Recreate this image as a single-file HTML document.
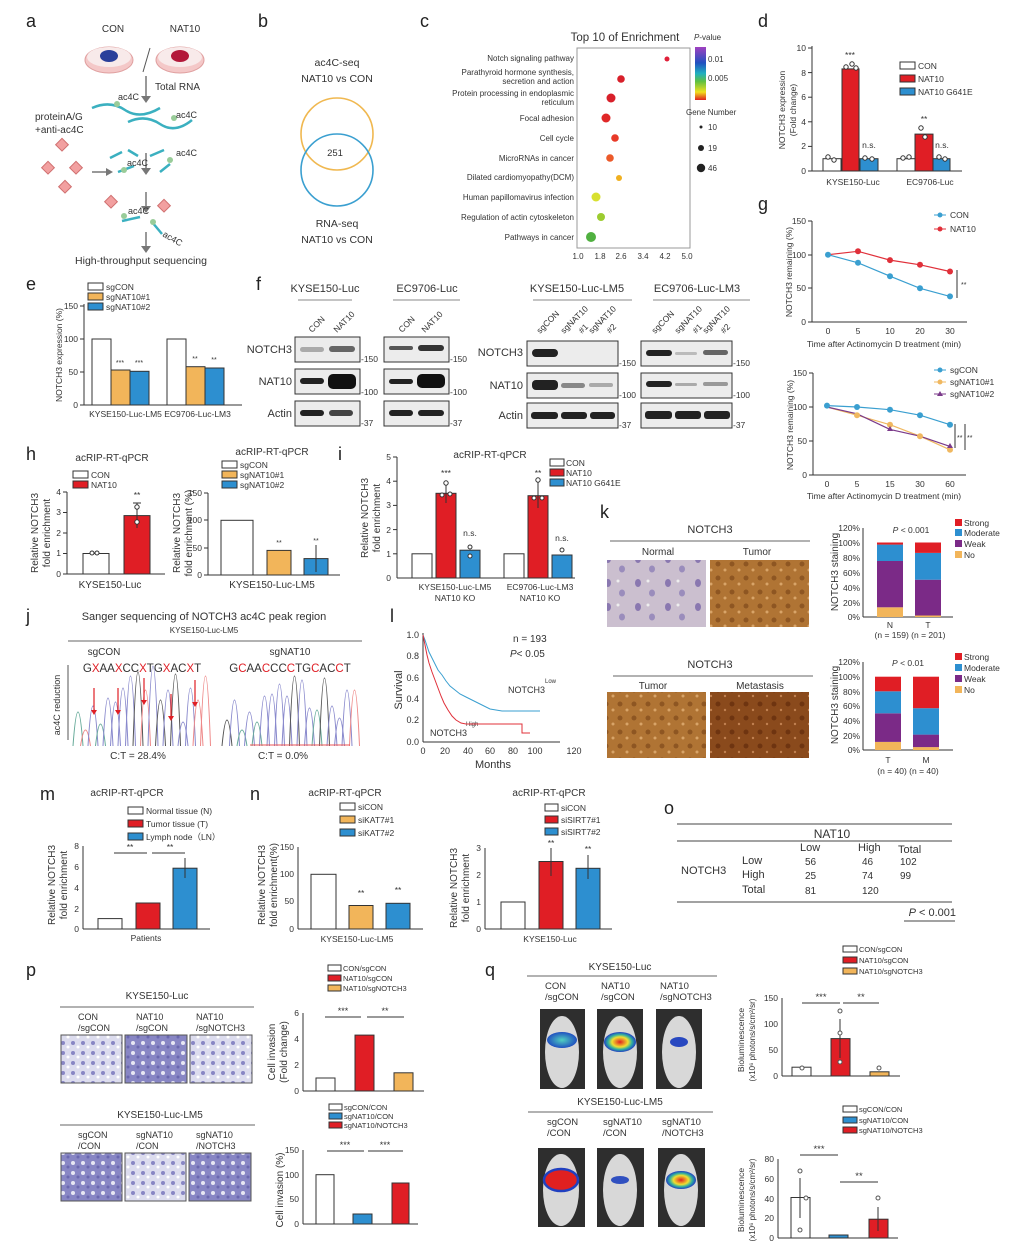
<!DOCTYPE html>
<html><head><meta charset="utf-8"><style>
html,body{margin:0;padding:0;background:#fff;}
svg{display:block;font-family:"Liberation Sans",Arial,sans-serif;}
</style></head><body>
<svg width="1024" height="1256" viewBox="0 0 1024 1256" xmlns="http://www.w3.org/2000/svg" fill="#333">
<rect width="1024" height="1256" fill="#fff"/>
<!-- Panel letters -->
<g font-size="18" fill="#222">
<text x="26" y="27">a</text><text x="258" y="27">b</text><text x="420" y="27">c</text><text x="758" y="27">d</text>
<text x="26" y="290">e</text><text x="256" y="290">f</text><text x="758" y="210">g</text>
<text x="26" y="460">h</text><text x="338" y="460">i</text><text x="600" y="518">k</text>
<text x="26" y="622">j</text><text x="390" y="622">l</text>
<text x="40" y="800">m</text><text x="250" y="800">n</text><text x="664" y="814">o</text>
<text x="26" y="976">p</text><text x="485" y="976">q</text>
</g>

<!-- Panel a -->
<g font-size="10" fill="#333">
<text x="113" y="32" text-anchor="middle">CON</text><text x="185" y="32" text-anchor="middle">NAT10</text>
<ellipse cx="109" cy="60" rx="24" ry="13" fill="#f4c8c8" stroke="#e0a0a0"/>
<ellipse cx="109" cy="57" rx="22" ry="10" fill="#f8eaea"/>
<ellipse cx="109" cy="56" rx="9" ry="6" fill="#2a3f9a"/>
<ellipse cx="180" cy="60" rx="24" ry="13" fill="#f4c8c8" stroke="#e0a0a0"/>
<ellipse cx="180" cy="57" rx="22" ry="10" fill="#f8eaea"/>
<ellipse cx="180" cy="56" rx="9" ry="6" fill="#b3183a"/>
<line x1="150" y1="48" x2="143" y2="72" stroke="#555"/>
<g stroke="#777" stroke-width="1.5" fill="none">
<line x1="146" y1="76" x2="146" y2="98"/><line x1="146" y1="153" x2="146" y2="170"/><line x1="146" y1="192" x2="146" y2="208"/><line x1="146" y1="232" x2="146" y2="248"/><line x1="92" y1="172" x2="108" y2="172"/>
</g>
<polygon points="141,96 151,96 146,103" fill="#777"/><polygon points="141,168 151,168 146,175" fill="#777"/><polygon points="141,206 151,206 146,213" fill="#777"/><polygon points="141,246 151,246 146,253" fill="#777"/><polygon points="106,168 106,176 113,172" fill="#777"/>
<text x="155" y="90">Total RNA</text>
<g stroke="#3bb0c0" stroke-width="2.5" fill="none">
<path d="M92,108 Q110,100 125,110 T160,108"/><path d="M128,122 Q145,114 160,124 T192,120"/>
<path d="M110,158 l12,-6"/><path d="M128,150 l10,6"/><path d="M150,156 l14,-6"/><path d="M118,172 l16,-6"/><path d="M160,172 l10,-8"/><path d="M122,221 l18,-4"/><path d="M152,222 l10,12"/>
</g>
<circle cx="117" cy="104" r="3" fill="#9c9"/><circle cx="174" cy="118" r="3" fill="#9c9"/><circle cx="124" cy="170" r="3" fill="#9c9"/><circle cx="170" cy="160" r="3" fill="#9c9"/><circle cx="124" cy="216" r="3" fill="#9c9"/><circle cx="153" cy="222" r="3" fill="#9c9"/>
<g font-size="9"><text x="118" y="100">ac4C</text><text x="176" y="118">ac4C</text><text x="176" y="156">ac4C</text><text x="127" y="166">ac4C</text><text x="128" y="214">ac4C</text><text x="162" y="236" transform="rotate(30 162 236)">ac4C</text></g>
<text x="35" y="120">proteinA/G</text><text x="35" y="133">+anti-ac4C</text>
<g fill="#f2a0a0" stroke="#d07070">
<rect x="58" y="140" width="9" height="9" transform="rotate(45 62 144)"/><rect x="44" y="163" width="9" height="9" transform="rotate(45 48 167)"/><rect x="72" y="163" width="9" height="9" transform="rotate(45 76 167)"/><rect x="61" y="182" width="9" height="9" transform="rotate(45 65 186)"/><rect x="107" y="197" width="9" height="9" transform="rotate(45 111 201)"/><rect x="160" y="201" width="9" height="9" transform="rotate(45 164 205)"/>
</g>
<text x="141" y="264" text-anchor="middle" font-size="10.5">High-throughput sequencing</text>
</g>

<!-- Panel b -->
<g font-size="10.5" fill="#333" text-anchor="middle">
<text x="337" y="66">ac4C-seq</text><text x="337" y="82">NAT10 vs CON</text>
<circle cx="337" cy="134" r="36" fill="none" stroke="#f0b850" stroke-width="1.6"/>
<circle cx="337" cy="170" r="36" fill="none" stroke="#3a9fd0" stroke-width="1.6"/>
<text x="335" y="156" font-size="9.5">251</text>
<text x="337" y="227">RNA-seq</text><text x="337" y="243">NAT10 vs CON</text>
</g>

<!-- Panel c -->
<g font-size="8" fill="#333">
<text x="625" y="41" text-anchor="middle" font-size="11.5">Top 10 of Enrichment</text>
<rect x="577" y="48" width="113" height="200" fill="none" stroke="#999"/>
<g text-anchor="end">
<text x="574" y="61">Notch signaling pathway</text>
<text x="574" y="75">Parathyroid hormone synthesis,</text><text x="574" y="84">secretion and action</text>
<text x="574" y="96">Protein processing in endoplasmic</text><text x="574" y="105">reticulum</text>
<text x="574" y="121">Focal adhesion</text><text x="574" y="141">Cell cycle</text><text x="574" y="161">MicroRNAs in cancer</text>
<text x="574" y="180">Dilated cardiomyopathy(DCM)</text><text x="574" y="200">Human papillomavirus infection</text>
<text x="574" y="220">Regulation of actin cytoskeleton</text><text x="574" y="240">Pathways in cancer</text>
</g>
<circle cx="667" cy="59" r="2.5" fill="#e0203a"/><circle cx="621" cy="79" r="3.8" fill="#d8202a"/><circle cx="611" cy="98" r="4.5" fill="#d8202a"/><circle cx="606" cy="118" r="4.5" fill="#e02828"/><circle cx="615" cy="138" r="3.8" fill="#e83a28"/><circle cx="610" cy="158" r="3.8" fill="#ec5a2a"/><circle cx="619" cy="178" r="3" fill="#f0b020"/><circle cx="596" cy="197" r="4.5" fill="#d8e030"/><circle cx="601" cy="217" r="4" fill="#9ccc30"/><circle cx="591" cy="237" r="5" fill="#50b040"/>
<g text-anchor="middle"><text x="578" y="259">1.0</text><text x="600" y="259">1.8</text><text x="621" y="259">2.6</text><text x="643" y="259">3.4</text><text x="665" y="259">4.2</text><text x="687" y="259">5.0</text></g>
<defs><linearGradient id="cb" x1="0" y1="0" x2="0" y2="1"><stop offset="0" stop-color="#a040c0"/><stop offset="0.3" stop-color="#2050c0"/><stop offset="0.5" stop-color="#20b0c0"/><stop offset="0.65" stop-color="#60c040"/><stop offset="0.85" stop-color="#f0e020"/><stop offset="1" stop-color="#e02020"/></linearGradient></defs>
<rect x="695" y="47" width="11" height="53" fill="url(#cb)"/>
<text x="694" y="40"><tspan font-style="italic">P</tspan>-value</text><text x="708" y="62">0.01</text><text x="708" y="81">0.005</text>
<text x="686" y="115">Gene Number</text>
<circle cx="701" cy="127" r="1.5" fill="#222"/><circle cx="701" cy="148" r="3" fill="#222"/><circle cx="701" cy="168" r="4.2" fill="#222"/>
<text x="708" y="130">10</text><text x="708" y="151">19</text><text x="708" y="171">46</text>
</g>

<!-- Panel d -->
<g font-size="8.5" fill="#333" stroke-width="1">
<g stroke="#333"><line x1="812" y1="46" x2="812" y2="171"/><line x1="812" y1="171" x2="962" y2="171"/>
<line x1="808" y1="171" x2="812" y2="171"/><line x1="808" y1="146.4" x2="812" y2="146.4"/><line x1="808" y1="121.8" x2="812" y2="121.8"/><line x1="808" y1="97.2" x2="812" y2="97.2"/><line x1="808" y1="72.6" x2="812" y2="72.6"/><line x1="808" y1="48" x2="812" y2="48"/></g>
<g text-anchor="end"><text x="806" y="174">0</text><text x="806" y="149">2</text><text x="806" y="125">4</text><text x="806" y="100">6</text><text x="806" y="76">8</text><text x="806" y="51">10</text></g>
<g stroke="#333"><rect x="823" y="158.7" width="18" height="12.3" fill="#fff"/><rect x="842" y="68.9" width="17" height="102.1" fill="#e01e25"/><rect x="860" y="158.7" width="18" height="12.3" fill="#2d8fd0"/>
<rect x="897" y="158.7" width="18" height="12.3" fill="#fff"/><rect x="915" y="134.1" width="18" height="36.9" fill="#e01e25"/><rect x="933" y="158.7" width="17" height="12.3" fill="#2d8fd0"/></g>
<g fill="#fff" stroke="#333"><circle cx="828" cy="157" r="2.2"/><circle cx="834" cy="160" r="2.2"/><circle cx="846" cy="67" r="2.2"/><circle cx="852" cy="64" r="2.2"/><circle cx="856" cy="68" r="2.2"/><circle cx="865" cy="158" r="2.2"/><circle cx="872" cy="159" r="2.2"/><circle cx="903" cy="158" r="2.2"/><circle cx="909" cy="157" r="2.2"/><circle cx="921" cy="128" r="2.2"/><circle cx="925" cy="137" r="2.2"/><circle cx="939" cy="157" r="2.2"/><circle cx="945" cy="159" r="2.2"/></g>
<text x="850" y="58" text-anchor="middle">***</text><text x="924" y="122" text-anchor="middle">**</text>
<text x="869" y="148" text-anchor="middle">n.s.</text><text x="942" y="148" text-anchor="middle">n.s.</text>
<text x="853" y="185" text-anchor="middle">KYSE150-Luc</text><text x="930" y="185" text-anchor="middle">EC9706-Luc</text>
<text transform="translate(785 110) rotate(-90)" text-anchor="middle">NOTCH3 expression</text>
<text transform="translate(796 110) rotate(-90)" text-anchor="middle">(Fold change)</text>
<g stroke="#333"><rect x="900" y="62" width="15" height="7" fill="#fff"/><rect x="900" y="75" width="15" height="7" fill="#e01e25"/><rect x="900" y="88" width="15" height="7" fill="#2d8fd0"/></g>
<text x="918" y="69">CON</text><text x="918" y="82">NAT10</text><text x="918" y="95">NAT10 G641E</text>
</g>

<!-- Panel g -->
<g font-size="8.5" fill="#333">
<g stroke="#333"><line x1="812" y1="221" x2="812" y2="322"/><line x1="812" y1="322" x2="967" y2="322"/>
<line x1="808" y1="221" x2="812" y2="221"/><line x1="808" y1="255" x2="812" y2="255"/><line x1="808" y1="288" x2="812" y2="288"/><line x1="808" y1="322" x2="812" y2="322"/></g>
<g text-anchor="end"><text x="806" y="224">150</text><text x="806" y="258">100</text><text x="806" y="291">50</text><text x="806" y="325">0</text></g>
<g text-anchor="middle"><text x="828" y="334">0</text><text x="858" y="334">5</text><text x="890" y="334">10</text><text x="920" y="334">20</text><text x="950" y="334">30</text><text x="884" y="347">Time after Actinomycin D treatment (min)</text></g>
<text transform="translate(792 272) rotate(-90)" text-anchor="middle">NOTCH3 remaining (%)</text>
<polyline points="828,254.7 858,262.8 890,276.2 920,288.3 950,296.4" fill="none" stroke="#3a9fd0" stroke-width="1.2"/>
<polyline points="828,254.7 858,251.3 890,260.1 920,264.8 950,271.5" fill="none" stroke="#e0303a" stroke-width="1.2"/>
<g fill="#3a9fd0"><circle cx="828" cy="254.7" r="3"/><circle cx="858" cy="262.8" r="3"/><circle cx="890" cy="276.2" r="3"/><circle cx="920" cy="288.3" r="3"/><circle cx="950" cy="296.4" r="3"/></g>
<g fill="#e0303a"><circle cx="858" cy="251.3" r="3"/><circle cx="890" cy="260.1" r="3"/><circle cx="920" cy="264.8" r="3"/><circle cx="950" cy="271.5" r="3"/></g>
<line x1="957" y1="270" x2="957" y2="298" stroke="#333"/><text x="961" y="287" font-size="7">**</text>
<line x1="934" y1="215" x2="946" y2="215" stroke="#3a9fd0"/><circle cx="940" cy="215" r="2.5" fill="#3a9fd0"/><text x="950" y="218">CON</text>
<line x1="934" y1="229" x2="946" y2="229" stroke="#e0303a"/><circle cx="940" cy="229" r="2.5" fill="#e0303a"/><text x="950" y="232">NAT10</text>

<g stroke="#333"><line x1="813" y1="373" x2="813" y2="475"/><line x1="813" y1="475" x2="966" y2="475"/>
<line x1="809" y1="373" x2="813" y2="373"/><line x1="809" y1="407" x2="813" y2="407"/><line x1="809" y1="441" x2="813" y2="441"/><line x1="809" y1="475" x2="813" y2="475"/></g>
<g text-anchor="end"><text x="807" y="376">150</text><text x="807" y="410">100</text><text x="807" y="444">50</text><text x="807" y="478">0</text></g>
<g text-anchor="middle"><text x="827" y="487">0</text><text x="857" y="487">5</text><text x="890" y="487">15</text><text x="920" y="487">30</text><text x="950" y="487">60</text><text x="884" y="499">Time after Actinomycin D treatment (min)</text></g>
<text transform="translate(793 425) rotate(-90)" text-anchor="middle">NOTCH3 remaining (%)</text>
<polyline points="827,405.6 857,407 890,409.7 920,415.2 950,424.7" fill="none" stroke="#3a9fd0" stroke-width="1.2"/>
<polyline points="827,407 857,415.2 890,424.7 920,436.2 950,449.8" fill="none" stroke="#f0b860" stroke-width="1.2"/>
<polyline points="827,407 857,413.8 890,429.4 920,436.2 950,446.4" fill="none" stroke="#7b3a8a" stroke-width="1.2"/>
<g fill="#3a9fd0"><circle cx="827" cy="405.6" r="3"/><circle cx="857" cy="407" r="3"/><circle cx="890" cy="409.7" r="3"/><circle cx="920" cy="415.2" r="3"/><circle cx="950" cy="424.7" r="3"/></g>
<g fill="#f0b860"><circle cx="857" cy="415.2" r="3"/><circle cx="890" cy="424.7" r="3"/><circle cx="920" cy="436.2" r="3"/><circle cx="950" cy="449.8" r="3"/></g>
<g fill="#7b3a8a"><polygon points="890,426 893,431 887,431"/><polygon points="950,443 953,448 947,448"/></g>
<line x1="955" y1="424" x2="955" y2="448" stroke="#333"/><line x1="965" y1="424" x2="965" y2="450" stroke="#333"/>
<text x="957" y="440" font-size="7">**</text><text x="967" y="440" font-size="7">**</text>
<line x1="934" y1="370" x2="946" y2="370" stroke="#3a9fd0"/><circle cx="940" cy="370" r="2.5" fill="#3a9fd0"/><text x="950" y="373">sgCON</text>
<line x1="934" y1="382" x2="946" y2="382" stroke="#f0b860"/><circle cx="940" cy="382" r="2.5" fill="#f0b860"/><text x="950" y="385">sgNAT10#1</text>
<line x1="934" y1="394" x2="946" y2="394" stroke="#7b3a8a"/><polygon points="940,391 943,396 937,396" fill="#7b3a8a"/><text x="950" y="397">sgNAT10#2</text>
</g>

<!-- Panel e -->
<g font-size="8.5" fill="#333">
<g stroke="#333"><line x1="84" y1="304" x2="84" y2="405"/><line x1="84" y1="405" x2="242" y2="405"/>
<line x1="80" y1="306" x2="84" y2="306"/><line x1="80" y1="339" x2="84" y2="339"/><line x1="80" y1="372" x2="84" y2="372"/><line x1="80" y1="405" x2="84" y2="405"/></g>
<g text-anchor="end"><text x="78" y="309">150</text><text x="78" y="342">100</text><text x="78" y="375">50</text><text x="78" y="408">0</text></g>
<g stroke="#333"><rect x="92" y="339" width="19" height="66" fill="#fff"/><rect x="111" y="370" width="19" height="35" fill="#f2b55a"/><rect x="130" y="371.3" width="19" height="33.7" fill="#2d8fd0"/>
<rect x="167" y="339" width="19" height="66" fill="#fff"/><rect x="186" y="366.7" width="19" height="38.3" fill="#f2b55a"/><rect x="205" y="368" width="19" height="37" fill="#2d8fd0"/></g>
<g text-anchor="middle" font-size="7"><text x="120" y="365">***</text><text x="139" y="365">***</text><text x="195" y="361">**</text><text x="214" y="362">**</text></g>
<text x="160" y="417" text-anchor="middle">KYSE150-Luc-LM5 EC9706-Luc-LM3</text>
<text transform="translate(62 355) rotate(-90)" text-anchor="middle">NOTCH3 expression (%)</text>
<g stroke="#333"><rect x="88" y="283" width="15" height="7" fill="#fff"/><rect x="88" y="293" width="15" height="7" fill="#f2b55a"/><rect x="88" y="303" width="15" height="7" fill="#2d8fd0"/></g>
<text x="106" y="290">sgCON</text><text x="106" y="300">sgNAT10#1</text><text x="106" y="310">sgNAT10#2</text>
</g>

<!-- Panel f western blots -->
<g font-size="11" fill="#333">
<g text-anchor="middle"><text x="325" y="292">KYSE150-Luc</text><text x="427" y="292">EC9706-Luc</text><text x="577" y="292">KYSE150-Luc-LM5</text><text x="697" y="292">EC9706-Luc-LM3</text></g>
<g stroke="#888"><line x1="298" y1="300" x2="352" y2="300"/><line x1="393" y1="300" x2="460" y2="300"/><line x1="533" y1="300" x2="632" y2="300"/><line x1="653" y1="300" x2="750" y2="300"/></g>
<g font-size="8.5">
<text transform="translate(312 333) rotate(-45)">CON</text><text transform="translate(337 333) rotate(-45)">NAT10</text>
<text transform="translate(402 333) rotate(-45)">CON</text><text transform="translate(425 333) rotate(-45)">NAT10</text>
<text transform="translate(540 334) rotate(-45)">sgCON</text><text transform="translate(564 334) rotate(-45)">sgNAT10</text><text transform="translate(582 334) rotate(-45)">#1</text><text transform="translate(592 334) rotate(-45)">sgNAT10</text><text transform="translate(610 334) rotate(-45)">#2</text>
<text transform="translate(655 334) rotate(-45)">sgCON</text><text transform="translate(678 334) rotate(-45)">sgNAT10</text><text transform="translate(696 334) rotate(-45)">#1</text><text transform="translate(706 334) rotate(-45)">sgNAT10</text><text transform="translate(724 334) rotate(-45)">#2</text>
</g>
<g fill="#ececec" stroke="#333">
<rect x="295" y="337" width="65" height="25"/><rect x="295" y="369" width="65" height="25"/><rect x="295" y="401" width="65" height="25"/>
<rect x="384" y="337" width="65" height="25"/><rect x="384" y="369" width="65" height="25"/><rect x="384" y="401" width="65" height="25"/>
<rect x="527" y="341" width="91" height="25"/><rect x="527" y="373" width="91" height="25"/><rect x="527" y="403" width="91" height="25"/>
<rect x="641" y="341" width="91" height="25"/><rect x="641" y="373" width="91" height="25"/><rect x="641" y="403" width="91" height="25"/>
</g>
<g fill="#222">
<rect x="300" y="347" width="24" height="5" rx="2.5" fill="#aaa"/><rect x="329" y="346" width="26" height="6" rx="3" fill="#666"/>
<rect x="300" y="378" width="24" height="6" rx="3"/><rect x="328" y="374" width="28" height="15" rx="5" fill="#111"/>
<rect x="300" y="410" width="24" height="6" rx="3"/><rect x="329" y="410" width="24" height="6" rx="3" fill="#444"/>
<rect x="389" y="346" width="24" height="4" rx="2" fill="#555"/><rect x="418" y="345" width="26" height="6" rx="3" fill="#333"/>
<rect x="389" y="379" width="24" height="5" rx="2.5"/><rect x="417" y="374" width="28" height="14" rx="5" fill="#111"/>
<rect x="389" y="410" width="24" height="6" rx="3"/><rect x="418" y="410" width="26" height="6" rx="3"/>
<rect x="532" y="349" width="26" height="8" rx="4"/>
<rect x="532" y="380" width="26" height="10" rx="4"/><rect x="561" y="383" width="24" height="5" rx="2.5" fill="#888"/><rect x="589" y="383" width="24" height="4" rx="2" fill="#aaa"/>
<rect x="531" y="412" width="27" height="7" rx="3"/><rect x="561" y="412" width="26" height="7" rx="3"/><rect x="590" y="412" width="25" height="7" rx="3"/>
<rect x="646" y="350" width="26" height="6" rx="3"/><rect x="675" y="352" width="22" height="3" rx="1.5" fill="#bbb"/><rect x="703" y="350" width="25" height="5" rx="2.5" fill="#666"/>
<rect x="646" y="381" width="26" height="6" rx="3"/><rect x="675" y="383" width="22" height="3" rx="1.5" fill="#aaa"/><rect x="703" y="382" width="25" height="4" rx="2" fill="#999"/>
<rect x="645" y="411" width="27" height="8" rx="3"/><rect x="675" y="411" width="26" height="8" rx="3"/><rect x="704" y="411" width="26" height="8" rx="3"/>
</g>
<g text-anchor="end"><text x="292" y="353">NOTCH3</text><text x="292" y="385">NAT10</text><text x="292" y="417">Actin</text>
<text x="523" y="356">NOTCH3</text><text x="523" y="389">NAT10</text><text x="523" y="419">Actin</text></g>
<g font-size="8.5"><text x="361" y="362">-150</text><text x="361" y="395">-100</text><text x="361" y="426">-37</text>
<text x="450" y="362">-150</text><text x="450" y="395">-100</text><text x="450" y="426">-37</text>
<text x="619" y="366">-150</text><text x="619" y="398">-100</text><text x="619" y="428">-37</text>
<text x="733" y="366">-150</text><text x="733" y="398">-100</text><text x="733" y="428">-37</text></g>
</g>

<!-- Panel h -->
<g font-size="8.5" fill="#333">
<text x="112" y="461" text-anchor="middle" font-size="10">acRIP-RT-qPCR</text>
<g stroke="#333"><rect x="73" y="471" width="15" height="7" fill="#fff"/><rect x="73" y="481" width="15" height="7" fill="#e01e25"/></g>
<text x="91" y="478">CON</text><text x="91" y="488">NAT10</text>
<g stroke="#333"><line x1="67" y1="492" x2="67" y2="574"/><line x1="67" y1="574" x2="165" y2="574"/>
<line x1="63" y1="492" x2="67" y2="492"/><line x1="63" y1="512.5" x2="67" y2="512.5"/><line x1="63" y1="533" x2="67" y2="533"/><line x1="63" y1="553.5" x2="67" y2="553.5"/><line x1="63" y1="574" x2="67" y2="574"/></g>
<g text-anchor="end"><text x="61" y="495">4</text><text x="61" y="515">3</text><text x="61" y="536">2</text><text x="61" y="556">1</text><text x="61" y="577">0</text></g>
<g stroke="#333"><rect x="83" y="553.5" width="26" height="20.5" fill="#fff"/><rect x="124" y="515.6" width="26" height="58.4" fill="#e01e25"/>
<line x1="137" y1="503" x2="137" y2="528"/><line x1="133" y1="503" x2="141" y2="503"/></g>
<g fill="#fff" stroke="#333"><circle cx="137" cy="507" r="2.2"/><circle cx="137" cy="522" r="2.2"/><circle cx="92" cy="553" r="2"/><circle cx="97" cy="553" r="2"/></g>
<text x="137" y="498" text-anchor="middle">**</text>
<text x="110" y="588" text-anchor="middle" font-size="10">KYSE150-Luc</text>
<text transform="translate(38 533) rotate(-90)" text-anchor="middle" font-size="10">Relative NOTCH3</text>
<text transform="translate(50 533) rotate(-90)" text-anchor="middle" font-size="10">fold enrichment</text>

<text x="272" y="455" text-anchor="middle" font-size="10">acRIP-RT-qPCR</text>
<g stroke="#333"><rect x="222" y="461" width="15" height="7" fill="#fff"/><rect x="222" y="471" width="15" height="7" fill="#f2b55a"/><rect x="222" y="481" width="15" height="7" fill="#2d8fd0"/></g>
<text x="240" y="468">sgCON</text><text x="240" y="478">sgNAT10#1</text><text x="240" y="488">sgNAT10#2</text>
<g stroke="#333"><line x1="208" y1="493" x2="208" y2="575"/><line x1="208" y1="575" x2="340" y2="575"/>
<line x1="204" y1="493" x2="208" y2="493"/><line x1="204" y1="520" x2="208" y2="520"/><line x1="204" y1="548" x2="208" y2="548"/><line x1="204" y1="575" x2="208" y2="575"/></g>
<g text-anchor="end"><text x="202" y="496">150</text><text x="202" y="523">100</text><text x="202" y="551">50</text><text x="202" y="578">0</text></g>
<g stroke="#333"><rect x="221" y="520.3" width="32" height="54.7" fill="#fff"/><rect x="267" y="550.4" width="24" height="24.6" fill="#f2b55a"/><rect x="304" y="558.6" width="24" height="16.4" fill="#2d8fd0"/>
<line x1="316" y1="545" x2="316" y2="572"/></g>
<g text-anchor="middle" font-size="7"><text x="279" y="545">**</text><text x="316" y="543">**</text></g>
<text x="272" y="588" text-anchor="middle" font-size="10">KYSE150-Luc-LM5</text>
<text transform="translate(180 533) rotate(-90)" text-anchor="middle" font-size="10">Relative NOTCH3</text>
<text transform="translate(192 533) rotate(-90)" text-anchor="middle" font-size="10">fold enrichment (%)</text>
</g>

<!-- Panel i -->
<g font-size="8.5" fill="#333">
<text x="490" y="458" text-anchor="middle" font-size="10">acRIP-RT-qPCR</text>
<g stroke="#333"><line x1="397" y1="457" x2="397" y2="578"/><line x1="397" y1="578" x2="575" y2="578"/>
<line x1="393" y1="457" x2="397" y2="457"/><line x1="393" y1="481.2" x2="397" y2="481.2"/><line x1="393" y1="505.4" x2="397" y2="505.4"/><line x1="393" y1="529.6" x2="397" y2="529.6"/><line x1="393" y1="553.8" x2="397" y2="553.8"/></g>
<g text-anchor="end"><text x="391" y="460">5</text><text x="391" y="484">4</text><text x="391" y="508">3</text><text x="391" y="533">2</text><text x="391" y="557">1</text><text x="391" y="581">0</text></g>
<g stroke="#333"><rect x="412" y="553.8" width="20" height="24.2" fill="#fff"/><rect x="436" y="493.3" width="20" height="84.7" fill="#e01e25"/><rect x="460" y="550.2" width="20" height="27.8" fill="#2d8fd0"/>
<rect x="504" y="553.8" width="20" height="24.2" fill="#fff"/><rect x="528" y="495.7" width="20" height="82.3" fill="#e01e25"/><rect x="552" y="555" width="20" height="23" fill="#2d8fd0"/>
<line x1="446" y1="483" x2="446" y2="503"/><line x1="538" y1="480" x2="538" y2="508"/></g>
<g fill="#fff" stroke="#333"><circle cx="446" cy="483" r="2.2"/><circle cx="442" cy="495" r="2"/><circle cx="450" cy="494" r="2"/><circle cx="538" cy="480" r="2.2"/><circle cx="534" cy="498" r="2"/><circle cx="542" cy="498" r="2"/><circle cx="470" cy="547" r="2"/><circle cx="470" cy="556" r="2"/><circle cx="562" cy="550" r="2"/></g>
<g text-anchor="middle"><text x="446" y="476">***</text><text x="538" y="476">**</text><text x="470" y="536">n.s.</text><text x="562" y="541">n.s.</text></g>
<g stroke="#333"><rect x="550" y="459" width="14" height="7" fill="#fff"/><rect x="550" y="469" width="14" height="7" fill="#e01e25"/><rect x="550" y="479" width="14" height="7" fill="#2d8fd0"/></g>
<text x="566" y="466">CON</text><text x="566" y="476">NAT10</text><text x="566" y="486">NAT10 G641E</text>
<g text-anchor="middle"><text x="455" y="590">KYSE150-Luc-LM5</text><text x="540" y="590">EC9706-Luc-LM3</text><text x="455" y="601">NAT10 KO</text><text x="540" y="601">NAT10 KO</text></g>
<text transform="translate(368 518) rotate(-90)" text-anchor="middle" font-size="10">Relative NOTCH3</text>
<text transform="translate(380 518) rotate(-90)" text-anchor="middle" font-size="10">fold enrichment</text>
</g>

<!-- Panel k -->
<defs>
<pattern id="pN" width="30" height="24" patternUnits="userSpaceOnUse"><rect width="30" height="24" fill="#cbbfcf"/><ellipse cx="8" cy="7" rx="3" ry="4" fill="#8a78b0"/><ellipse cx="22" cy="17" rx="3" ry="3.5" fill="#9a8cbc"/><circle cx="18" cy="5" r="1.5" fill="#eee"/></pattern>
<pattern id="pT" width="14" height="14" patternUnits="userSpaceOnUse"><rect width="14" height="14" fill="#b07434"/><circle cx="4" cy="4" r="2.5" fill="#8e5622"/><circle cx="11" cy="10" r="1.5" fill="#d8a468"/></pattern>
<pattern id="pM" width="14" height="14" patternUnits="userSpaceOnUse"><rect width="14" height="14" fill="#8a4a1c"/><circle cx="4" cy="4" r="2.5" fill="#6e3410"/><circle cx="11" cy="10" r="1.2" fill="#c08050"/></pattern>
<pattern id="pI" width="10" height="10" patternUnits="userSpaceOnUse"><rect width="10" height="10" fill="#8886c4"/><circle cx="3" cy="3" r="2" fill="#e8e8f4"/><circle cx="8" cy="7" r="1.5" fill="#6a68b0"/></pattern>
<pattern id="pL" width="10" height="10" patternUnits="userSpaceOnUse"><rect width="10" height="10" fill="#dcdcee"/><circle cx="3" cy="3" r="2" fill="#8886c4"/><circle cx="8" cy="7" r="1.5" fill="#fff"/></pattern>
</defs>
<g font-size="11" fill="#333" text-anchor="middle">
<text x="710" y="533">NOTCH3</text><line x1="610" y1="541" x2="810" y2="541" stroke="#666"/>
<text x="658" y="555" font-size="10">Normal</text><text x="757" y="555" font-size="10">Tumor</text>
<rect x="607" y="560" width="99" height="67" fill="url(#pN)"/><rect x="710" y="560" width="99" height="67" fill="url(#pT)"/>
<text x="710" y="668">NOTCH3</text><line x1="613" y1="676" x2="813" y2="676" stroke="#666"/>
<text x="653" y="689" font-size="10">Tumor</text><text x="760" y="689" font-size="10">Metastasis</text>
<rect x="607" y="692" width="99" height="66" fill="url(#pT)"/><rect x="710" y="692" width="99" height="66" fill="url(#pM)"/>
</g>
<g font-size="8.5" fill="#333">
<g stroke="#333"><line x1="863" y1="528" x2="863" y2="617"/><line x1="863" y1="617" x2="953" y2="617"/></g>
<g text-anchor="end"><text x="860" y="531">120%</text><text x="860" y="546">100%</text><text x="860" y="561">80%</text><text x="860" y="576">60%</text><text x="860" y="591">40%</text><text x="860" y="606">20%</text><text x="860" y="620">0%</text></g>
<rect x="877" y="607.3" width="26" height="9.7" fill="#f2b55a"/><rect x="877" y="561" width="26" height="46.3" fill="#7b2a87"/><rect x="877" y="544.6" width="26" height="16.4" fill="#2d8fd0"/><rect x="877" y="542.5" width="26" height="2.1" fill="#e01e25"/>
<rect x="915" y="615.5" width="26" height="1.5" fill="#f2b55a"/><rect x="915" y="579.7" width="26" height="35.8" fill="#7b2a87"/><rect x="915" y="552.9" width="26" height="26.8" fill="#2d8fd0"/><rect x="915" y="542.5" width="26" height="10.4" fill="#e01e25"/>
<text x="911" y="533" text-anchor="middle"><tspan font-style="italic">P</tspan> &lt; 0.001</text>
<g text-anchor="middle"><text x="890" y="628">N</text><text x="928" y="628">T</text><text x="910" y="638">(n = 159) (n = 201)</text></g>
<text transform="translate(838 572) rotate(-90)" text-anchor="middle" font-size="10">NOTCH3 staining</text>
<rect x="955" y="519" width="7" height="7" fill="#e01e25"/><rect x="955" y="529" width="7" height="7" fill="#2d8fd0"/><rect x="955" y="540" width="7" height="7" fill="#7b2a87"/><rect x="955" y="551" width="7" height="7" fill="#f2b55a"/>
<text x="964" y="526">Strong</text><text x="964" y="536">Moderate</text><text x="964" y="547">Weak</text><text x="964" y="558">No</text>

<g stroke="#333"><line x1="863" y1="662" x2="863" y2="750"/><line x1="863" y1="750" x2="953" y2="750"/></g>
<g text-anchor="end"><text x="860" y="665">120%</text><text x="860" y="680">100%</text><text x="860" y="695">80%</text><text x="860" y="709">60%</text><text x="860" y="724">40%</text><text x="860" y="739">20%</text><text x="860" y="753">0%</text></g>
<rect x="875" y="741.9" width="26" height="8.1" fill="#f2b55a"/><rect x="875" y="713.3" width="26" height="28.6" fill="#7b2a87"/><rect x="875" y="691.3" width="26" height="22" fill="#2d8fd0"/><rect x="875" y="676.7" width="26" height="14.6" fill="#e01e25"/>
<rect x="913" y="747.1" width="26" height="2.9" fill="#f2b55a"/><rect x="913" y="734.6" width="26" height="12.5" fill="#7b2a87"/><rect x="913" y="708.2" width="26" height="26.4" fill="#2d8fd0"/><rect x="913" y="676.7" width="26" height="31.5" fill="#e01e25"/>
<text x="908" y="666" text-anchor="middle"><tspan font-style="italic">P</tspan> &lt; 0.01</text>
<g text-anchor="middle"><text x="888" y="763">T</text><text x="926" y="763">M</text><text x="908" y="774">(n = 40) (n = 40)</text></g>
<text transform="translate(838 705) rotate(-90)" text-anchor="middle" font-size="10">NOTCH3 staining</text>
<rect x="955" y="653" width="7" height="7" fill="#e01e25"/><rect x="955" y="664" width="7" height="7" fill="#2d8fd0"/><rect x="955" y="675" width="7" height="7" fill="#7b2a87"/><rect x="955" y="686" width="7" height="7" fill="#f2b55a"/>
<text x="964" y="660">Strong</text><text x="964" y="671">Moderate</text><text x="964" y="682">Weak</text><text x="964" y="693">No</text>
</g>

<!-- Panel j -->
<g font-size="10" fill="#333" text-anchor="middle">
<text x="204" y="620" font-size="11">Sanger sequencing of NOTCH3 ac4C peak region</text>
<text x="204" y="633" font-size="8">KYSE150-Luc-LM5</text>
<line x1="68" y1="641" x2="362" y2="641" stroke="#666"/>
<text x="104" y="655">sgCON</text><text x="290" y="655">sgNAT10</text>
<text x="142" y="672" font-size="11.5">G<tspan fill="#e01e25">X</tspan>AA<tspan fill="#e01e25">X</tspan>CC<tspan fill="#e01e25">X</tspan>TG<tspan fill="#e01e25">X</tspan>AC<tspan fill="#e01e25">X</tspan>T</text>
<text x="290" y="672" font-size="11.5">G<tspan fill="#e01e25">C</tspan>AA<tspan fill="#e01e25">C</tspan>CC<tspan fill="#e01e25">C</tspan>TG<tspan fill="#e01e25">C</tspan>AC<tspan fill="#e01e25">C</tspan>T</text>
<text x="138" y="759">C:T = 28.4%</text><text x="283" y="759">C:T = 0.0%</text>
<text transform="translate(60 705) rotate(-90)" font-size="9">ac4C reduction</text>
<line x1="68" y1="665" x2="68" y2="740" stroke="#555"/>
</g>
<g fill="none" stroke-width="1">
<path d="M73,746 Q78,678 83,746" stroke="#6a9"/><path d="M80.5,746 Q85.5,714 90.5,746" stroke="#e88"/><path d="M88,746 Q93,666 98,746" stroke="#88c"/><path d="M95.5,746 Q100.5,702 105.5,746" stroke="#6a9"/>
<path d="M103,746 Q108,650 113,746" stroke="#88c"/><path d="M110.5,746 Q115.5,658 120.5,746" stroke="#88c"/><path d="M118,746 Q123,630 128,746" stroke="#88c"/><path d="M125.5,746 Q130.5,606 135.5,746" stroke="#88c"/>
<path d="M133,746 Q138,598 143,746" stroke="#555"/><path d="M140.5,746 Q145.5,634 150.5,746" stroke="#e88"/><path d="M148,746 Q153,586 158,746" stroke="#88c"/><path d="M155.5,746 Q160.5,654 165.5,746" stroke="#555"/>
<path d="M163,746 Q168,634 173,746" stroke="#88c"/><path d="M170.5,746 Q175.5,602 180.5,746" stroke="#555"/><path d="M178,746 Q183,698 188,746" stroke="#88c"/><path d="M185.5,746 Q190.5,630 195.5,746" stroke="#88c"/>
<path d="M193,746 Q198,654 203,746" stroke="#e88"/><path d="M200.5,746 Q205.5,606 210.5,746" stroke="#e88"/>
<path d="M222,746 Q227,694 232,746" stroke="#555"/><path d="M229.5,746 Q234.5,654 239.5,746" stroke="#88c"/><path d="M237,746 Q242,714 247,746" stroke="#6a9"/><path d="M244.5,746 Q249.5,678 254.5,746" stroke="#88c"/>
<path d="M252,746 Q257,698 262,746" stroke="#6a9"/><path d="M259.5,746 Q264.5,646 269.5,746" stroke="#88c"/><path d="M267,746 Q272,642 277,746" stroke="#88c"/><path d="M274.5,746 Q279.5,622 284.5,746" stroke="#88c"/>
<path d="M282,746 Q287,646 292,746" stroke="#88c"/><path d="M289.5,746 Q294.5,606 299.5,746" stroke="#555"/><path d="M297,746 Q302,614 307,746" stroke="#88c"/><path d="M304.5,746 Q309.5,670 314.5,746" stroke="#88c"/>
<path d="M312,746 Q317,674 322,746" stroke="#6a9"/><path d="M319.5,746 Q324.5,610 329.5,746" stroke="#555"/><path d="M327,746 Q332,666 337,746" stroke="#88c"/><path d="M334.5,746 Q339.5,690 344.5,746" stroke="#88c"/>
<path d="M342,746 Q347,634 352,746" stroke="#88c"/><path d="M349.5,746 Q354.5,634 359.5,746" stroke="#e88"/>
<line x1="250" y1="745" x2="350" y2="745" stroke="#e55"/>
</g>
<g stroke="#e01e25" stroke-width="1.2"><line x1="94" y1="688" x2="94" y2="712"/><line x1="118" y1="688" x2="118" y2="712"/><line x1="144" y1="678" x2="144" y2="702"/><line x1="171" y1="694" x2="171" y2="718"/><line x1="195" y1="680" x2="195" y2="704"/></g>
<g fill="#e01e25"><polygon points="91,710 97,710 94,715"/><polygon points="115,710 121,710 118,715"/><polygon points="141,700 147,700 144,705"/><polygon points="168,716 174,716 171,721"/><polygon points="192,702 198,702 195,707"/></g>

<!-- Panel l -->
<g font-size="9" fill="#333">
<g stroke="#333"><line x1="423" y1="633" x2="423" y2="742"/><line x1="423" y1="742" x2="560" y2="742"/></g>
<g text-anchor="end"><text x="419" y="638">1.0</text><text x="419" y="659">0.8</text><text x="419" y="681">0.6</text><text x="419" y="702">0.4</text><text x="419" y="723">0.2</text><text x="419" y="745">0.0</text></g>
<g text-anchor="middle"><text x="423" y="754">0</text><text x="445" y="754">20</text><text x="468" y="754">40</text><text x="490" y="754">60</text><text x="513" y="754">80</text><text x="535" y="754">100</text><text x="574" y="754">120</text>
<text x="493" y="768" font-size="11">Months</text></g>
<text transform="translate(402 690) rotate(-90)" text-anchor="middle" font-size="11">Survival</text>
<text x="513" y="642" font-size="10">n = 193</text><text x="510" y="657" font-size="10"><tspan font-style="italic">P</tspan>&lt; 0.05</text>
<text x="508" y="693" font-size="9">NOTCH3</text><text x="545" y="683" font-size="6">Low</text>
<text x="430" y="736" font-size="9">NOTCH3</text><text x="466" y="726" font-size="6">High</text>
<polyline fill="none" stroke="#3a9fd0" stroke-width="1" points="423,635 425,640 427,646 429,652 432,658 435,664 438,670 442,675 446,681 450,686 455,690 460,694 466,697 472,700 478,703 484,706 490,709 496,710 502,711 510,711 518,711 526,711 540,711"/>
<polyline fill="none" stroke="#e0303a" stroke-width="1" points="423,635 425,645 427,655 429,663 432,672 435,680 438,688 441,696 444,703 448,710 452,716 456,720 461,723 466,724 472,724 480,724 490,724 500,724 510,724 522,724 522,733 530,733"/>
</g>

<!-- Panel m -->
<g font-size="8.5" fill="#333">
<text x="127" y="796" text-anchor="middle" font-size="10">acRIP-RT-qPCR</text>
<g stroke="#333"><rect x="128" y="807" width="15" height="7" fill="#fff"/><rect x="128" y="820" width="15" height="7" fill="#e01e25"/><rect x="128" y="833" width="15" height="7" fill="#2d8fd0"/></g>
<text x="146" y="814">Normal tissue (N)</text><text x="146" y="827">Tumor tissue (T)</text><text x="146" y="840">Lymph node（LN）</text>
<g stroke="#333"><line x1="83" y1="846" x2="83" y2="929"/><line x1="83" y1="929" x2="210" y2="929"/></g>
<g text-anchor="end"><text x="79" y="849">8</text><text x="79" y="870">6</text><text x="79" y="891">4</text><text x="79" y="912">2</text><text x="79" y="932">0</text></g>
<g stroke="#333"><rect x="98" y="918.6" width="24" height="10.4" fill="#fff"/><rect x="136" y="903" width="24" height="26" fill="#e01e25"/><rect x="173" y="868.2" width="24" height="60.8" fill="#2d8fd0"/>
<line x1="114" y1="853" x2="147" y2="853"/><line x1="152" y1="853" x2="185" y2="853"/><line x1="185" y1="858" x2="185" y2="878"/></g>
<g text-anchor="middle"><text x="130" y="850">**</text><text x="170" y="850">**</text><text x="146" y="941">Patients</text></g>
<text transform="translate(55 885) rotate(-90)" text-anchor="middle" font-size="10">Relative NOTCH3</text>
<text transform="translate(67 885) rotate(-90)" text-anchor="middle" font-size="10">fold enrichment</text>
</g>

<!-- Panel n -->
<g font-size="8.5" fill="#333">
<text x="345" y="796" text-anchor="middle" font-size="10">acRIP-RT-qPCR</text>
<g stroke="#333"><rect x="340" y="803" width="15" height="7" fill="#fff"/><rect x="340" y="816" width="15" height="7" fill="#f2b55a"/><rect x="340" y="829" width="15" height="7" fill="#2d8fd0"/></g>
<text x="358" y="810">siCON</text><text x="358" y="823">siKAT7#1</text><text x="358" y="836">siKAT7#2</text>
<g stroke="#333"><line x1="298" y1="847" x2="298" y2="929"/><line x1="298" y1="929" x2="423" y2="929"/></g>
<g text-anchor="end"><text x="294" y="850">150</text><text x="294" y="877">100</text><text x="294" y="904">50</text><text x="294" y="932">0</text></g>
<g stroke="#333"><rect x="311" y="874.3" width="25" height="54.7" fill="#fff"/><rect x="349" y="905.5" width="24" height="23.5" fill="#f2b55a"/><rect x="386" y="903.3" width="24" height="25.7" fill="#2d8fd0"/></g>
<g text-anchor="middle"><text x="361" y="896">**</text><text x="398" y="893">**</text><text x="357" y="942">KYSE150-Luc-LM5</text></g>
<text transform="translate(265 885) rotate(-90)" text-anchor="middle" font-size="10">Relative NOTCH3</text>
<text transform="translate(277 885) rotate(-90)" text-anchor="middle" font-size="10">fold enrichment(%)</text>

<text x="549" y="796" text-anchor="middle" font-size="10">acRIP-RT-qPCR</text>
<g stroke="#333"><rect x="545" y="804" width="13" height="7" fill="#fff"/><rect x="545" y="816" width="13" height="7" fill="#e01e25"/><rect x="545" y="828" width="13" height="7" fill="#2d8fd0"/></g>
<text x="561" y="811">siCON</text><text x="561" y="823">siSIRT7#1</text><text x="561" y="835">siSIRT7#2</text>
<g stroke="#333"><line x1="485" y1="848" x2="485" y2="929"/><line x1="485" y1="929" x2="612" y2="929"/></g>
<g text-anchor="end"><text x="481" y="851">3</text><text x="481" y="878">2</text><text x="481" y="905">1</text><text x="481" y="932">0</text></g>
<g stroke="#333"><rect x="501" y="902" width="24" height="27" fill="#fff"/><rect x="539" y="861.5" width="24" height="67.5" fill="#e01e25"/><rect x="576" y="868.3" width="24" height="60.7" fill="#2d8fd0"/>
<line x1="551" y1="848" x2="551" y2="876"/><line x1="588" y1="855" x2="588" y2="879"/></g>
<g text-anchor="middle"><text x="551" y="846">**</text><text x="588" y="852">**</text><text x="550" y="942">KYSE150-Luc</text></g>
<text transform="translate(457 888) rotate(-90)" text-anchor="middle" font-size="10">Relative NOTCH3</text>
<text transform="translate(469 888) rotate(-90)" text-anchor="middle" font-size="10">fold enrichment</text>
</g>

<!-- Panel o -->
<g font-size="11" fill="#333">
<line x1="677" y1="824" x2="952" y2="824" stroke="#444"/><line x1="677" y1="841" x2="952" y2="841" stroke="#444"/><line x1="677" y1="902" x2="952" y2="902" stroke="#444"/>
<text x="832" y="838" text-anchor="middle" font-size="12">NAT10</text>
<text x="800" y="851">Low</text><text x="858" y="851">High</text><text x="898" y="853">Total</text>
<text x="681" y="874">NOTCH3</text>
<text x="742" y="864">Low</text><text x="742" y="878">High</text><text x="742" y="893">Total</text>
<g font-size="10"><text x="805" y="865">56</text><text x="862" y="865">46</text><text x="900" y="865">102</text>
<text x="805" y="879">25</text><text x="862" y="879">74</text><text x="900" y="879">99</text>
<text x="805" y="894">81</text><text x="862" y="894">120</text></g>
<text x="956" y="916" text-anchor="end"><tspan font-style="italic">P</tspan> &lt; 0.001</text>
<line x1="904" y1="921" x2="955" y2="921" stroke="#444"/>
</g>

<!-- Panel p -->
<g font-size="9" fill="#333">
<text x="157" y="999" text-anchor="middle" font-size="10">KYSE150-Luc</text><line x1="60" y1="1007" x2="254" y2="1007" stroke="#666"/>
<text x="78" y="1020">CON</text><text x="78" y="1031">/sgCON</text><text x="136" y="1020">NAT10</text><text x="136" y="1031">/sgCON</text><text x="196" y="1020">NAT10</text><text x="196" y="1031">/sgNOTCH3</text>
<g stroke="#555"><rect x="61" y="1035" width="61" height="48" fill="url(#pL)"/><rect x="125" y="1035" width="62" height="48" fill="url(#pI)"/><rect x="190" y="1035" width="62" height="48" fill="url(#pL)"/></g>
<text x="160" y="1118" text-anchor="middle" font-size="10">KYSE150-Luc-LM5</text><line x1="60" y1="1125" x2="255" y2="1125" stroke="#666"/>
<text x="78" y="1138">sgCON</text><text x="78" y="1149">/CON</text><text x="136" y="1138">sgNAT10</text><text x="136" y="1149">/CON</text><text x="196" y="1138">sgNAT10</text><text x="196" y="1149">/NOTCH3</text>
<g stroke="#555"><rect x="61" y="1153" width="61" height="48" fill="url(#pI)"/><rect x="125" y="1153" width="61" height="48" fill="url(#pL)"/><rect x="189" y="1153" width="62" height="48" fill="url(#pI)"/></g>

<g font-size="7.5"><g stroke="#333"><rect x="328" y="965" width="13" height="6" fill="#fff"/><rect x="328" y="975" width="13" height="6" fill="#e01e25"/><rect x="328" y="985" width="13" height="6" fill="#f2b55a"/></g>
<text x="343" y="971">CON/sgCON</text><text x="343" y="981">NAT10/sgCON</text><text x="343" y="991">NAT10/sgNOTCH3</text></g>
<g stroke="#333"><line x1="303" y1="1013" x2="303" y2="1091"/><line x1="303" y1="1091" x2="424" y2="1091"/></g>
<g text-anchor="end" font-size="8.5"><text x="299" y="1016">6</text><text x="299" y="1042">4</text><text x="299" y="1068">2</text><text x="299" y="1094">0</text></g>
<g stroke="#333"><rect x="316" y="1078" width="19" height="13" fill="#fff"/><rect x="355" y="1035.1" width="19" height="55.9" fill="#e01e25"/><rect x="394" y="1072.8" width="19" height="18.2" fill="#f2b55a"/>
<line x1="325" y1="1017" x2="361" y2="1017"/><line x1="367" y1="1017" x2="404" y2="1017"/></g>
<g text-anchor="middle"><text x="343" y="1014">***</text><text x="385" y="1014">**</text></g>
<text transform="translate(275 1052) rotate(-90)" text-anchor="middle" font-size="10">Cell invasion</text>
<text transform="translate(287 1052) rotate(-90)" text-anchor="middle" font-size="10">(Fold change)</text>

<g font-size="7.5"><g stroke="#333"><rect x="329" y="1104" width="13" height="6" fill="#fff"/><rect x="329" y="1113" width="13" height="6" fill="#2d8fd0"/><rect x="329" y="1122" width="13" height="6" fill="#e01e25"/></g>
<text x="344" y="1110">sgCON/CON</text><text x="344" y="1119">sgNAT10/CON</text><text x="344" y="1128">sgNAT10/NOTCH3</text></g>
<g stroke="#333"><line x1="303" y1="1150" x2="303" y2="1224"/><line x1="303" y1="1224" x2="418" y2="1224"/></g>
<g text-anchor="end" font-size="8.5"><text x="299" y="1153">150</text><text x="299" y="1178">100</text><text x="299" y="1202">50</text><text x="299" y="1227">0</text></g>
<g stroke="#333"><rect x="316" y="1174.7" width="18" height="49.3" fill="#fff"/><rect x="353" y="1214" width="19" height="10" fill="#2d8fd0"/><rect x="392" y="1183" width="17" height="41" fill="#e01e25"/>
<line x1="327" y1="1151" x2="364" y2="1151"/><line x1="368" y1="1151" x2="403" y2="1151"/></g>
<g text-anchor="middle"><text x="345" y="1148">***</text><text x="385" y="1148">***</text></g>
<text transform="translate(283 1190) rotate(-90)" text-anchor="middle" font-size="10">Cell invasion (%)</text>
</g>

<!-- Panel q -->
<defs>
<radialGradient id="hs" cx="0.5" cy="0.5" r="0.5"><stop offset="0" stop-color="#e02020"/><stop offset="0.5" stop-color="#f0e030"/><stop offset="0.75" stop-color="#30b0a0"/><stop offset="1" stop-color="#2040c0"/></radialGradient>
<radialGradient id="hc" cx="0.5" cy="0.5" r="0.5"><stop offset="0" stop-color="#50d0c0"/><stop offset="1" stop-color="#2050c0"/></radialGradient>
</defs>
<g font-size="9.5" fill="#333">
<text x="620" y="970" text-anchor="middle" font-size="10">KYSE150-Luc</text><line x1="527" y1="976" x2="717" y2="976" stroke="#666"/>
<text x="545" y="989">CON</text><text x="545" y="1000">/sgCON</text><text x="601" y="989">NAT10</text><text x="601" y="1000">/sgCON</text><text x="660" y="989">NAT10</text><text x="660" y="1000">/sgNOTCH3</text>
<rect x="540" y="1009" width="45" height="80" fill="#2e2e2e"/><rect x="597" y="1009" width="46" height="80" fill="#2e2e2e"/><rect x="656" y="1009" width="46" height="80" fill="#2e2e2e"/>
<g fill="#d8d8d8"><ellipse cx="562" cy="1052" rx="17" ry="36"/><ellipse cx="620" cy="1052" rx="17" ry="36"/><ellipse cx="679" cy="1052" rx="17" ry="36"/></g>
<ellipse cx="562" cy="1040" rx="15" ry="8" fill="url(#hc)"/><ellipse cx="620" cy="1042" rx="16" ry="10" fill="url(#hs)"/><ellipse cx="679" cy="1042" rx="9" ry="5" fill="#2848c0"/>
<text x="620" y="1105" text-anchor="middle" font-size="10">KYSE150-Luc-LM5</text><line x1="528" y1="1112" x2="713" y2="1112" stroke="#666"/>
<text x="547" y="1125">sgCON</text><text x="547" y="1136">/CON</text><text x="603" y="1125">sgNAT10</text><text x="603" y="1136">/CON</text><text x="662" y="1125">sgNAT10</text><text x="662" y="1136">/NOTCH3</text>
<rect x="538" y="1148" width="47" height="79" fill="#2e2e2e"/><rect x="597" y="1148" width="47" height="79" fill="#2e2e2e"/><rect x="658" y="1148" width="47" height="79" fill="#2e2e2e"/>
<g fill="#d8d8d8"><ellipse cx="561" cy="1190" rx="18" ry="36"/><ellipse cx="620" cy="1190" rx="17" ry="36"/><ellipse cx="681" cy="1190" rx="17" ry="36"/></g>
<ellipse cx="561" cy="1180" rx="17" ry="11" fill="#e02020" stroke="#2040c0" stroke-width="2.5"/><ellipse cx="620" cy="1180" rx="9" ry="4" fill="#3050c0"/><ellipse cx="681" cy="1180" rx="15" ry="9" fill="url(#hs)"/>

<g font-size="7.5"><g stroke="#333"><rect x="843" y="946" width="14" height="6" fill="#fff"/><rect x="843" y="957" width="14" height="6" fill="#e01e25"/><rect x="843" y="968" width="14" height="6" fill="#f2b55a"/></g>
<text x="859" y="952">CON/sgCON</text><text x="859" y="963">NAT10/sgCON</text><text x="859" y="974">NAT10/sgNOTCH3</text></g>
<g stroke="#333"><line x1="782" y1="998" x2="782" y2="1076"/><line x1="782" y1="1076" x2="900" y2="1076"/></g>
<g text-anchor="end" font-size="8.5"><text x="778" y="1001">150</text><text x="778" y="1027">100</text><text x="778" y="1053">50</text><text x="778" y="1079">0</text></g>
<g stroke="#333"><rect x="792" y="1067.2" width="19" height="8.8" fill="#fff"/><rect x="831" y="1038.6" width="19" height="37.4" fill="#e01e25"/><rect x="870" y="1071.8" width="19" height="4.2" fill="#f2b55a"/>
<line x1="840" y1="1019" x2="840" y2="1058"/><line x1="802" y1="1003" x2="840" y2="1003"/><line x1="843" y1="1003" x2="879" y2="1003"/></g>
<g fill="#fff" stroke="#555"><circle cx="840" cy="1011" r="2"/><circle cx="840" cy="1033" r="2"/><circle cx="840" cy="1062" r="2"/><circle cx="802" cy="1068" r="2"/><circle cx="879" cy="1068" r="2"/></g>
<g text-anchor="middle"><text x="821" y="1000">***</text><text x="861" y="1000">**</text></g>
<text transform="translate(744 1040) rotate(-90)" text-anchor="middle" font-size="8.5">Bioluminescence</text>
<text transform="translate(755 1040) rotate(-90)" text-anchor="middle" font-size="8">(x10⁶ photons/s/cm²/sr)</text>

<g font-size="7.5"><g stroke="#333"><rect x="843" y="1106" width="14" height="6" fill="#fff"/><rect x="843" y="1117" width="14" height="6" fill="#2d8fd0"/><rect x="843" y="1127" width="14" height="6" fill="#e01e25"/></g>
<text x="859" y="1112">sgCON/CON</text><text x="859" y="1123">sgNAT10/CON</text><text x="859" y="1133">sgNAT10/NOTCH3</text></g>
<g stroke="#333"><line x1="778" y1="1159" x2="778" y2="1238"/><line x1="778" y1="1238" x2="898" y2="1238"/></g>
<g text-anchor="end" font-size="8.5"><text x="774" y="1162">80</text><text x="774" y="1182">60</text><text x="774" y="1202">40</text><text x="774" y="1221">20</text><text x="774" y="1241">0</text></g>
<g stroke="#333"><rect x="791" y="1197.5" width="19" height="40.5" fill="#fff"/><rect x="829" y="1235" width="19" height="3" fill="#2d8fd0"/><rect x="869" y="1219.2" width="19" height="18.8" fill="#e01e25"/>
<line x1="800" y1="1178" x2="800" y2="1218"/><line x1="878" y1="1207" x2="878" y2="1231"/>
<line x1="800" y1="1155" x2="838" y2="1155"/><line x1="840" y1="1182" x2="878" y2="1182"/></g>
<g fill="#fff" stroke="#555"><circle cx="800" cy="1171" r="2"/><circle cx="800" cy="1230" r="2"/><circle cx="806" cy="1198" r="2"/><circle cx="878" cy="1198" r="2"/></g>
<g text-anchor="middle"><text x="819" y="1152">***</text><text x="859" y="1179">**</text></g>
<text transform="translate(744 1200) rotate(-90)" text-anchor="middle" font-size="8.5">Bioluminescence</text>
<text transform="translate(755 1200) rotate(-90)" text-anchor="middle" font-size="8">(x10⁶ photons/s/cm²/sr)</text>
</g>
</svg>
</body></html>
